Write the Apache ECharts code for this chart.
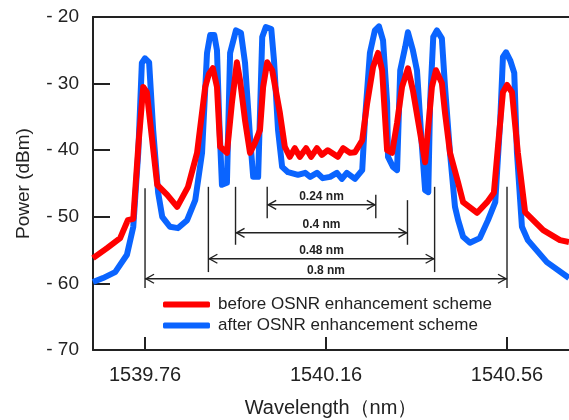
<!DOCTYPE html>
<html>
<head>
<meta charset="utf-8">
<script src="https://cdn.jsdelivr.net/npm/echarts@6/dist/echarts.min.js"></script>
<style>
  html, body { margin: 0; padding: 0; background: #fff; }
  #chart { width: 569px; height: 420px; }
</style>
</head>
<body>
<div id="chart"></div>
<script>
var chartDom = document.getElementById('chart');
var myChart = echarts.init(chartDom);
var option;

// wavelength ticks
let xTicks = [1539.76, 1540.16, 1540.56];

// after OSNR enhancement (blue)
let blueWl = [1539.645, 1539.667, 1539.694, 1539.720, 1539.734, 1539.745, 1539.753, 1539.760, 1539.769, 1539.778,
    1539.789, 1539.798, 1539.815, 1539.833, 1539.853, 1539.871, 1539.886, 1539.897, 1539.904, 1539.913,
    1539.919, 1539.924, 1539.930, 1539.941, 1539.948, 1539.961, 1539.972, 1539.981, 1539.992, 1539.999,
    1540.010, 1540.019, 1540.027, 1540.039, 1540.045, 1540.054, 1540.063, 1540.076, 1540.098, 1540.114,
    1540.125, 1540.140, 1540.153, 1540.169, 1540.184, 1540.195, 1540.206, 1540.224, 1540.240, 1540.246,
    1540.257, 1540.268, 1540.277, 1540.286, 1540.295, 1540.297, 1540.308, 1540.317, 1540.324, 1540.335,
    1540.341, 1540.352, 1540.361, 1540.372, 1540.379, 1540.386, 1540.390, 1540.397, 1540.405, 1540.416,
    1540.423, 1540.434, 1540.445, 1540.452, 1540.463, 1540.478, 1540.500, 1540.518, 1540.534, 1540.545,
    1540.551, 1540.558, 1540.567, 1540.576, 1540.582, 1540.593, 1540.606, 1540.648, 1540.697];
let bluePow = [-59.8, -59.2, -58.3, -55.7, -51.5, -40.4, -26.9, -26.2, -26.8, -37.0,
    -46.4, -50.0, -51.5, -51.7, -50.5, -47.5, -40.4, -25.4, -22.7, -22.7,
    -25.0, -35.5, -45.2, -44.9, -25.4, -22.0, -22.4, -26.9, -38.0, -44.0,
    -44.0, -23.0, -21.5, -21.8, -26.5, -37.0, -42.5, -43.3, -43.7, -43.4,
    -44.0, -43.4, -44.2, -44.0, -43.4, -44.3, -43.4, -44.3, -43.0, -35.5,
    -25.4, -22.0, -21.4, -23.5, -32.9, -41.0, -42.5, -43.0, -28.0, -24.5,
    -22.3, -25.0, -28.0, -39.5, -46.0, -46.3, -32.9, -23.0, -22.0, -23.2,
    -30.5, -40.4, -48.5, -50.5, -53.0, -53.9, -53.2, -50.5, -47.8, -35.5,
    -26.0, -25.3, -26.5, -28.4, -40.4, -51.5, -53.5, -56.8, -59.2];

// before OSNR enhancement (red)
let redWl = [1539.645, 1539.676, 1539.705, 1539.722, 1539.734, 1539.745, 1539.756, 1539.764, 1539.775, 1539.787,
    1539.809, 1539.831, 1539.855, 1539.875, 1539.893, 1539.901, 1539.910, 1539.919, 1539.926, 1539.941,
    1539.952, 1539.963, 1539.970, 1539.981, 1539.992, 1540.003, 1540.014, 1540.021, 1540.030, 1540.041,
    1540.058, 1540.069, 1540.080, 1540.091, 1540.102, 1540.116, 1540.127, 1540.140, 1540.151, 1540.164,
    1540.186, 1540.198, 1540.213, 1540.224, 1540.240, 1540.251, 1540.264, 1540.275, 1540.284, 1540.295,
    1540.306, 1540.317, 1540.328, 1540.341, 1540.352, 1540.368, 1540.379, 1540.386, 1540.394, 1540.403,
    1540.416, 1540.423, 1540.434, 1540.452, 1540.463, 1540.494, 1540.516, 1540.531, 1540.540, 1540.551,
    1540.560, 1540.571, 1540.584, 1540.600, 1540.640, 1540.677, 1540.697];
let redPow = [-56.2, -54.7, -53.2, -50.5, -50.3, -39.5, -30.5, -31.3, -38.0, -45.2,
    -46.7, -48.5, -45.5, -40.4, -30.5, -28.6, -27.7, -30.5, -39.5, -40.4,
    -32.9, -26.8, -29.5, -35.5, -40.4, -38.9, -37.0, -30.5, -26.8, -28.0,
    -34.4, -39.5, -41.0, -39.7, -41.0, -39.7, -41.0, -39.7, -40.7, -40.0,
    -41.0, -39.7, -40.4, -40.3, -38.5, -32.9, -27.5, -25.4, -28.0, -40.0,
    -40.4, -35.9, -30.5, -27.7, -31.0, -37.4, -41.8, -36.5, -30.5, -28.0,
    -29.9, -34.4, -40.4, -44.9, -47.8, -49.4, -47.8, -46.4, -39.5, -31.3,
    -30.2, -31.3, -40.4, -49.3, -52.0, -53.5, -53.8];

// channel spacing annotations
let spanLabels = ['0.24 nm', '0.4 nm', '0.48 nm', '0.8 nm'];
let spanFrom = [1540.03, 1539.96, 1539.90, 1539.76];
let spanTo = [1540.27, 1540.34, 1540.40, 1540.56];
let spanLevel = [-48.2, -52.4, -56.3, -59.3];
let markerWl = [1539.76, 1539.90, 1539.96, 1540.03, 1540.27, 1540.34, 1540.40, 1540.56];
let markerTop = [-45.7, -45.5, -45.5, -45.5, -46.7, -47.5, -45.5, -45.5];
let markerBottom = [-60.7, -58.3, -54.2, -50.2, -50.2, -54.2, -58.3, -60.7];

function zip(a, b) {
    return a.map(function (v, i) { return [v, b[i]]; });
}

let spanData = spanFrom.map(function (v, i) { return [v, spanLevel[i], spanTo[i]]; });
let markerData = markerWl.map(function (v, i) { return [v, markerTop[i], markerBottom[i]]; });

const fontFam = '"Liberation Sans", Arial, sans-serif';
const ink = '#222';
const thin = { stroke: ink, lineWidth: 1.4, fill: null };

option = {
    animation: false,
    backgroundColor: '#fff',
    textStyle: { fontFamily: fontFam },
    grid: {
        top: 17,
        left: 93,
        right: 0,
        bottom: 70,
        outerBoundsMode: 'none',
        containLabel: false
    },
    legend: {
        orient: 'vertical',
        left: 158,
        top: 291,
        itemWidth: 47,
        itemHeight: 6,
        itemGap: 4,
        icon: 'roundRect',
        data: ['before OSNR enhancement scheme', 'after OSNR enhancement scheme'],
        textStyle: {
            fontSize: 17,
            color: ink,
            fontFamily: fontFam,
            padding: [0, 0, 0, 3]
        }
    },
    xAxis: [{
        type: 'value',
        min: 1539.645,
        max: 1540.697,
        name: 'Wavelength\uFF08nm\uFF09',
        nameLocation: 'middle',
        nameGap: 48,
        nameTextStyle: { fontSize: 20, color: ink, fontFamily: fontFam },
        axisLine: { lineStyle: { color: ink, width: 2 } },
        axisTick: {
            inside: true,
            length: 13,
            customValues: xTicks,
            lineStyle: { color: ink, width: 2 }
        },
        axisLabel: {
            customValues: xTicks,
            margin: 15,
            fontSize: 20,
            color: ink,
            formatter: function (value) {
                return value.toFixed(2);
            }
        },
        splitLine: { show: false }
    }, {
        type: 'value',
        position: 'top',
        min: 1539.645,
        max: 1540.697,
        axisLine: { show: true, lineStyle: { color: ink, width: 2 } },
        axisTick: { show: false },
        axisLabel: { show: false },
        splitLine: { show: false }
    }],
    yAxis: {
        type: 'value',
        min: -70,
        max: -20,
        interval: 10,
        name: 'Power (dBm)',
        nameLocation: 'middle',
        nameGap: 60,
        nameTextStyle: { fontSize: 19, color: ink, fontFamily: fontFam },
        axisLine: { show: true, lineStyle: { color: ink, width: 2 } },
        axisTick: {
            inside: true,
            length: 17,
            lineStyle: { color: ink, width: 2 }
        },
        axisLabel: {
            margin: 14,
            fontSize: 19,
            color: ink,
            formatter: function (value) {
                return '- ' + Math.abs(value);
            }
        },
        splitLine: { show: false }
    },
    series: [{
        name: 'after OSNR enhancement scheme',
        type: 'line',
        showSymbol: false,
        symbol: 'none',
        itemStyle: { color: '#0a64ff' },
        lineStyle: { color: '#0a64ff', width: 6, join: 'round' },
        data: zip(blueWl, bluePow),
        z: 2
    }, {
        name: 'before OSNR enhancement scheme',
        type: 'line',
        showSymbol: false,
        symbol: 'none',
        itemStyle: { color: '#ff0000' },
        lineStyle: { color: '#ff0000', width: 6, join: 'round' },
        data: zip(redWl, redPow),
        z: 3
    }, {
        // vertical marker lines
        type: 'custom',
        silent: true,
        z: 4,
        data: markerData,
        renderItem: function (params, api) {
            var p1 = api.coord([api.value(0), api.value(1)]);
            var p2 = api.coord([api.value(0), api.value(2)]);
            return {
                type: 'line',
                shape: { x1: p1[0], y1: p1[1], x2: p2[0], y2: p2[1] },
                style: thin
            };
        }
    }, {
        // double arrows with spacing labels
        type: 'custom',
        silent: true,
        z: 4,
        data: spanData,
        renderItem: function (params, api) {
            var a = api.coord([api.value(0), api.value(1)]);
            var b = api.coord([api.value(2), api.value(1)]);
            var h = 9, w = 4.5;
            return {
                type: 'group',
                children: [{
                    type: 'line',
                    shape: { x1: a[0], y1: a[1], x2: b[0], y2: b[1] },
                    style: thin
                }, {
                    type: 'polyline',
                    shape: { points: [[a[0] + h, a[1] - w], [a[0] + 1, a[1]], [a[0] + h, a[1] + w]] },
                    style: thin
                }, {
                    type: 'polyline',
                    shape: { points: [[b[0] - h, b[1] - w], [b[0] - 1, b[1]], [b[0] - h, b[1] + w]] },
                    style: thin
                }, {
                    type: 'text',
                    style: {
                        x: (a[0] + b[0]) / 2,
                        y: a[1] - 2,
                        text: spanLabels[params.dataIndex],
                        align: 'center',
                        verticalAlign: 'bottom',
                        fontSize: 12,
                        fontWeight: 'bold',
                        fontFamily: fontFam,
                        fill: ink
                    }
                }]
            };
        }
    }]
};

option && myChart.setOption(option);

window.onresize = function () {
    myChart.resize();
};
</script>
</body>
</html>
